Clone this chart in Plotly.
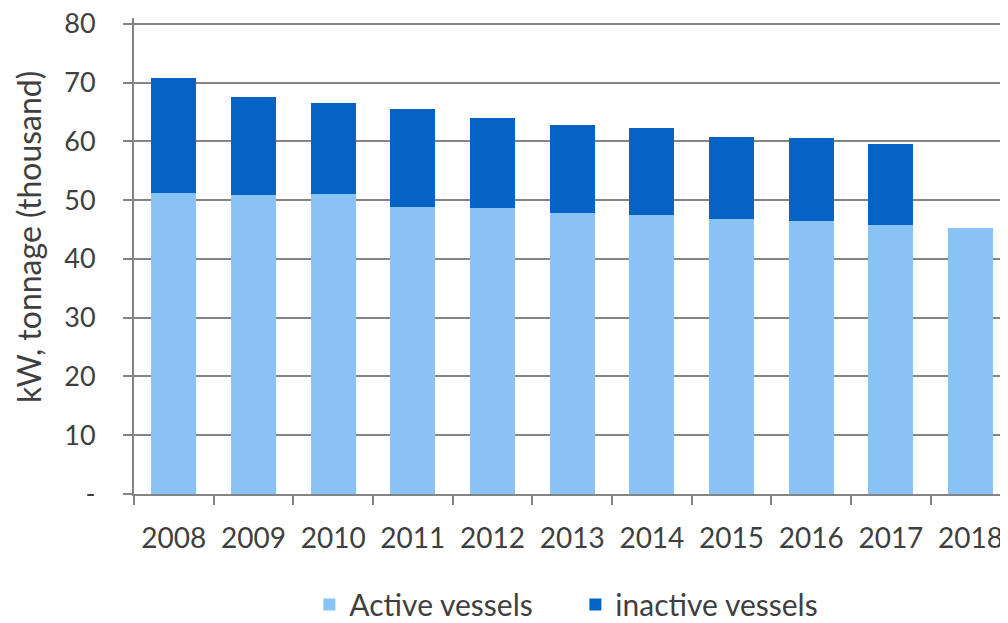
import plotly.graph_objects as go

years = ["2008", "2009", "2010", "2011", "2012", "2013", "2014", "2015", "2016", "2017", "2018"]
active_vessels = [51.3, 50.9, 51.0, 48.9, 48.6, 47.8, 47.5, 46.8, 46.5, 45.8, 45.3]
inactive_vessels = [19.5, 16.7, 15.6, 16.7, 15.3, 15.0, 14.7, 14.0, 14.0, 13.8, 0]
y_tick_vals = [0, 10, 20, 30, 40, 50, 60, 70, 80]
y_tick_text = ["-", "10", "20", "30", "40", "50", "60", "70", "80"]
y_title = "kW, tonnage (thousand)"

LIGHT = "#8AC3F6"
DARK = "#0563C6"
GRID = "#848484"
TXT = "#3F3F3F"
FONT = "Lato"

fig = go.Figure()
fig.add_trace(go.Bar(x=years, y=active_vessels, name="Active vessels",
                     marker=dict(color=LIGHT, line=dict(width=0))))
fig.add_trace(go.Bar(x=years, y=inactive_vessels, name="inactive vessels",
                     marker=dict(color=DARK, line=dict(width=0))))

# page body has an 8px margin, so the figure is 8px smaller and shifted
fig.update_layout(
    width=1000, height=615,
    barmode="stack", bargap=0.435,
    paper_bgcolor="white", plot_bgcolor="white",
    margin=dict(l=126, r=0, t=10, b=129, autoexpand=False),
    font=dict(family=FONT, color=TXT, size=26),
    showlegend=True,
    legend=dict(orientation="h", x=0.505, xanchor="center", y=-0.232, yanchor="middle",
                traceorder="normal", font=dict(size=30, color=TXT),
                itemwidth=30, entrywidth=221, entrywidthmode="pixels"),
    annotations=[dict(text=y_title, xref="paper", yref="paper",
                      x=-0.12, y=0.54, xanchor="center", yanchor="middle",
                      textangle=-90, showarrow=False,
                      font=dict(size=32, color=TXT, family=FONT))],
)
fig.update_xaxes(
    type="category", range=[-0.5, 10.47], automargin=False,
    showline=True, linecolor=GRID, linewidth=2,
    ticks="outside", tickson="boundaries", ticklen=9, tickwidth=2, tickcolor=GRID,
    tickfont=dict(size=28, color=TXT), ticklabelstandoff=18,
    ticklabeloverflow="allow",
    showgrid=False,
)
fig.update_yaxes(
    range=[0, 81], tickvals=y_tick_vals, ticktext=y_tick_text, automargin=False,
    showline=True, linecolor=GRID, linewidth=2,
    ticks="outside", ticklen=9, tickwidth=2, tickcolor=GRID,
    tickfont=dict(size=27, color=TXT), ticklabelstandoff=22,
    ticklabeloverflow="allow",
    showgrid=True, gridcolor=GRID, gridwidth=2,
    zeroline=False,
)

fig.write_html("out.html")
